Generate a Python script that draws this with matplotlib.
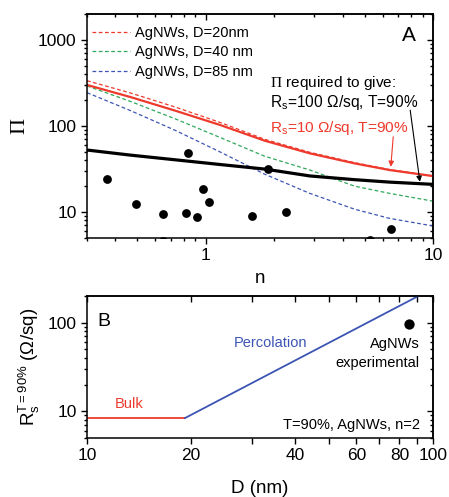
import matplotlib
matplotlib.use('Agg')
import matplotlib.pyplot as plt
from matplotlib.ticker import LogLocator, FixedLocator, FixedFormatter, NullFormatter

plt.rcParams['font.family'] = ['Liberation Sans', 'DejaVu Sans']
plt.rcParams['mathtext.fontset'] = 'custom'
plt.rcParams['mathtext.rm'] = 'Liberation Serif'
plt.rcParams['mathtext.sf'] = 'Liberation Sans'
plt.rcParams['mathtext.it'] = 'Liberation Sans:italic'

# panel A: Pi vs n
n_curve = [0.3, 0.466, 0.734, 1.157, 1.82, 2.87, 4.52, 6.44, 10]
pi_rs10 = [300, 217, 150.6, 102.7, 67.4, 48.1, 36.8, 30.8, 26.2]
pi_rs100 = [52.6, 45.9, 40.5, 35.7, 31.6, 26.3, 23.8, 22.3, 21.0]
pi_d20 = [336, 242, 166, 110, 70, 49.5, 37.5, 31.2, 26.4]
pi_d40 = [292, 193, 121, 73.5, 44.5, 30.8, 20.0, 16.5, 13.4]
pi_d85 = [244, 151, 89, 49.9, 27.5, 16.5, 10.8, 8.45, 6.9]

n_exp = [0.368, 0.495, 0.648, 0.818, 0.914, 0.835, 0.967, 1.038, 1.59, 2.25, 1.87, 6.5, 0.647, 5.26]
pi_exp = [24.2, 12.4, 9.5, 9.7, 8.8, 49, 18.4, 13.2, 9.1, 10.1, 31.6, 6.3, 4.6, 4.7]

# panel B: Rs vs D
d_bulk = [10, 19.2]
rs_bulk = [8.4, 8.4]
d_perc = [19.2, 90.7]
rs_perc = [8.4, 200]
d_agnw = [85]
rs_agnw = [97]

red = '#ee3a2c'
green = '#2ea85a'
blue = '#3c55b4'

fig = plt.figure(figsize=(4.49, 4.97), dpi=100)
axA = fig.add_axes([0.1938, 0.5211, 0.7706, 0.4507])
axB = fig.add_axes([0.1938, 0.1187, 0.7706, 0.2857])


def style_axis(ax):
    ax.tick_params(which='both', direction='out', top=False, right=False,
                   labelsize=12.5, width=1, colors='black')
    ax.tick_params(which='major', length=4)
    ax.tick_params(which='minor', length=2.2)
    for s in ax.spines.values():
        s.set_linewidth(1.1)
    # mirrored inward ticks on top/right
    top = ax.secondary_xaxis('top')
    right = ax.secondary_yaxis('right')
    top.xaxis.set_major_locator(ax.xaxis.get_major_locator())
    top.xaxis.set_minor_locator(ax.xaxis.get_minor_locator())
    right.yaxis.set_major_locator(ax.yaxis.get_major_locator())
    right.yaxis.set_minor_locator(ax.yaxis.get_minor_locator())
    for sec in (top, right):
        sec.tick_params(which='both', direction='in', labelleft=False, labelright=False,
                        labeltop=False, labelbottom=False, width=1)
        sec.tick_params(which='major', length=4)
        sec.tick_params(which='minor', length=2.2)
        for s in sec.spines.values():
            s.set_linewidth(1.1)


# ---- panel A
axA.set_xscale('log')
axA.set_yscale('log')
axA.plot(n_curve, pi_d20, color=red, lw=0.9, ls=(0, (3, 2)), label='AgNWs, D=20nm')
axA.plot(n_curve, pi_d40, color=green, lw=0.9, ls=(0, (3, 2)), label='AgNWs, D=40 nm')
axA.plot(n_curve, pi_d85, color=blue, lw=0.9, ls=(0, (3, 2)), label='AgNWs, D=85 nm')
axA.plot(n_curve, pi_rs10, color=red, lw=1.6)
axA.plot(n_curve, pi_rs100, color='black', lw=2.3)
axA.scatter(n_exp, pi_exp, s=40, color='black', zorder=5, linewidths=0)
axA.set_xlim(0.3, 10)
axA.set_ylim(5, 2000)
axA.xaxis.set_major_locator(FixedLocator([1, 10]))
axA.xaxis.set_major_formatter(FixedFormatter(['1', '10']))
axA.xaxis.set_minor_locator(LogLocator(base=10, subs=range(2, 10)))
axA.xaxis.set_minor_formatter(NullFormatter())
axA.yaxis.set_major_locator(FixedLocator([10, 100, 1000]))
axA.yaxis.set_major_formatter(FixedFormatter(['10', '100', '1000']))
axA.yaxis.set_minor_locator(LogLocator(base=10, subs=range(2, 10)))
axA.yaxis.set_minor_formatter(NullFormatter())
style_axis(axA)
axA.set_xlabel('n', fontsize=13.5, labelpad=5)
axA.set_ylabel(r'$\mathrm{\Pi}$', fontsize=16, labelpad=6)
axA.legend(loc='upper left', bbox_to_anchor=(-0.01, 0.985), frameon=False, fontsize=10.5,
           handlelength=2.6, handletextpad=0.3, labelspacing=0.36, borderaxespad=0.2)
axA.text(0.93, 0.906, 'A', transform=axA.transAxes, fontsize=15, ha='center', va='center')
axA.text(0.529, 0.692, r'$\mathrm{\Pi}$ required to give:', transform=axA.transAxes,
         fontsize=11.1, va='center', ha='left')
axA.text(0.529, 0.603, r'R$_\mathsf{s}$=100 Ω/sq, T=90%', transform=axA.transAxes,
         fontsize=11.2, va='center', ha='left')
axA.text(0.529, 0.492, r'R$_\mathsf{s}$=10 Ω/sq, T=90%', transform=axA.transAxes,
         fontsize=11.1, va='center', ha='left', color=red)
axA.annotate('', xy=(0.962, 0.251), xytext=(0.934, 0.571), xycoords='axes fraction',
             arrowprops=dict(arrowstyle='-|>', color='black', lw=0.8,
                             mutation_scale=8, shrinkA=0, shrinkB=0))
axA.annotate('', xy=(0.878, 0.318), xytext=(0.885, 0.452), xycoords='axes fraction',
             arrowprops=dict(arrowstyle='-|>', color=red, lw=0.8,
                             mutation_scale=8, shrinkA=0, shrinkB=0))

# ---- panel B
axB.set_xscale('log')
axB.set_yscale('log')
axB.plot(d_bulk, rs_bulk, color=red, lw=1.3)
axB.plot(d_perc, rs_perc, color=blue, lw=1.3)
axB.scatter(d_agnw, rs_agnw, s=55, color='black', zorder=5, linewidths=0)
axB.set_xlim(10, 100)
axB.set_ylim(5, 200)
axB.xaxis.set_major_locator(FixedLocator([10, 20, 30, 40, 50, 60, 70, 80, 90, 100]))
axB.xaxis.set_major_formatter(FixedFormatter(['10', '20', '', '40', '', '60', '', '80', '', '100']))
axB.xaxis.set_minor_locator(FixedLocator([]))
axB.yaxis.set_major_locator(FixedLocator([10, 100]))
axB.yaxis.set_major_formatter(FixedFormatter(['10', '100']))
axB.yaxis.set_minor_locator(LogLocator(base=10, subs=range(2, 10)))
axB.yaxis.set_minor_formatter(NullFormatter())
style_axis(axB)
axB.set_xlabel('D (nm)', fontsize=13.5, labelpad=12)
axB.set_ylabel(r'R$_\mathsf{s}^\mathsf{T=90\%}$ (Ω/sq)', fontsize=13.5, labelpad=4)
axB.text(0.029, 0.824, 'B', transform=axB.transAxes, fontsize=14, ha='left', va='center')
axB.text(13.2, 12.1, 'Bulk', color=red, fontsize=10.5, ha='center', va='center')
axB.text(33.8, 58.3, 'Percolation', color=blue, fontsize=10.5, ha='center', va='center')
axB.text(91.6, 57.3, 'AgNWs', fontsize=10.5, ha='right', va='center')
axB.text(91.6, 35.1, 'experimental', fontsize=10.5, ha='right', va='center')
axB.text(91.6, 7.06, 'T=90%, AgNWs, n=2', fontsize=10.5, ha='right', va='center')

fig.savefig('out.png', dpi=100)
